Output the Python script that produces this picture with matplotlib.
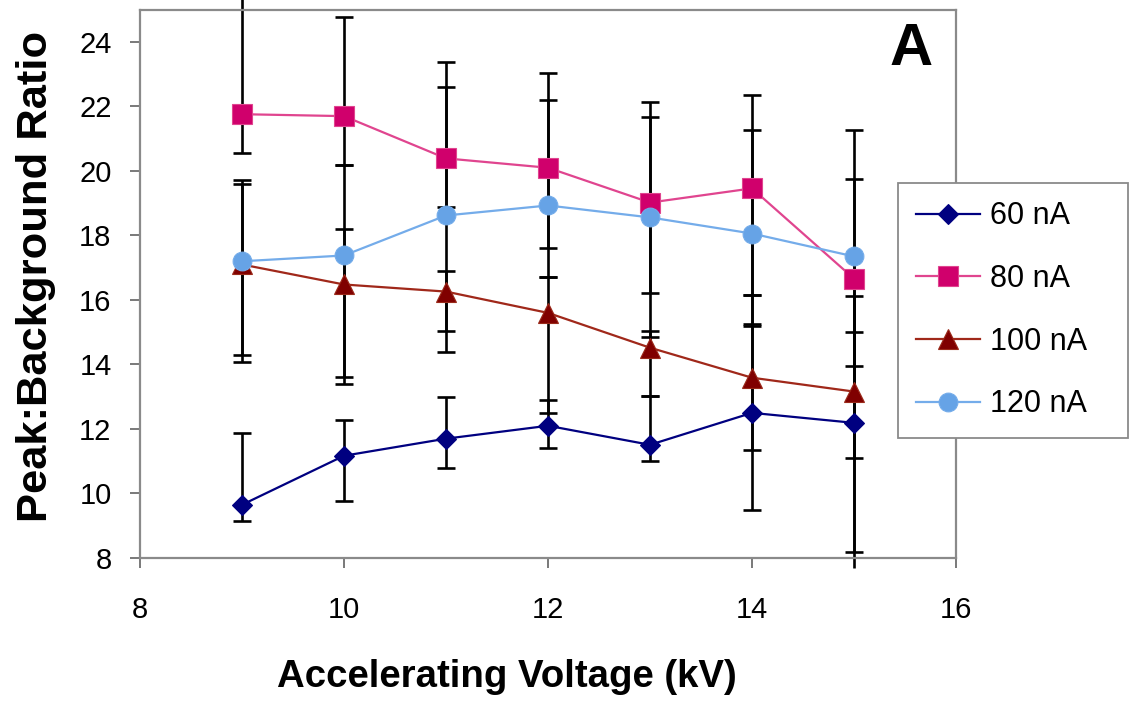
import matplotlib
matplotlib.use("Agg")
import matplotlib.pyplot as plt
import numpy as np

# Accelerating voltage (kV)
voltage = [9, 10, 11, 12, 13, 14, 15]

# Peak:Background ratio per beam current
ratio_60 = [9.65, 11.17, 11.7, 12.1, 11.51, 12.5, 12.19]
ratio_80 = [21.76, 21.7, 20.39, 20.1, 19.02, 19.46, 16.66]
ratio_100 = [17.1, 16.48, 16.26, 15.6, 14.52, 13.59, 13.16]
ratio_120 = [17.2, 17.38, 18.62, 18.93, 18.56, 18.06, 17.35]

# error bar ends (low, high)
low_60 = [9.15, 9.76, 10.79, 11.4, 11.0, 9.49, 7.7]
high_60 = [11.87, 12.27, 12.98, 12.89, 13.01, 15.24, 15.0]
low_80 = [20.57, 20.2, 18.87, 16.7, 16.23, 16.14, 13.94]
high_80 = [25.5, 24.78, 23.39, 23.05, 22.15, 22.37, 19.76]
low_100 = [14.07, 13.6, 15.03, 12.49, 13.01, 11.34, 8.19]
high_100 = [19.73, 18.19, 16.89, 16.7, 15.03, 16.14, 16.11]
low_120 = [14.3, 13.39, 14.38, 17.6, 14.84, 15.18, 11.1]
high_120 = [19.6, 20.2, 22.61, 22.2, 21.68, 21.28, 21.28]

labels = ["60 nA", "80 nA", "100 nA", "120 nA"]
ticks_x = [8, 10, 12, 14, 16]
ticks_y = [8, 10, 12, 14, 16, 18, 20, 22, 24]

plt.rcParams["font.family"] = ["Liberation Sans", "DejaVu Sans"]

fig = plt.figure(figsize=(11.3, 7.04), dpi=100)
ax = fig.add_axes([140 / 1130, 1 - 558 / 704, 816 / 1130, 548.3 / 704])

series = [
    (ratio_60, low_60, high_60, "D", 10, "#000080", "#000080", "#000080"),
    (ratio_80, low_80, high_80, "s", 14, "#D0006C", "#E0458F", "#E0458F"),
    (ratio_100, low_100, high_100, "^", 15, "#800000", "#A0281A", "#9A2A1A"),
    (ratio_120, low_120, high_120, "o", 13.5, "#66A3E6", "#74ACEA", "#74ACEA"),
]

# error bars first, underneath the markers
for vals, lo, hi, *_ in series:
    vals = np.array(vals)
    yerr = [vals - np.array(lo), np.array(hi) - vals]
    eb = ax.errorbar(voltage, vals, yerr=yerr, fmt="none", ecolor="black",
                     elinewidth=1.9, capsize=6.5, capthick=1.9, zorder=2)
    # bars may run past the plot frame (as in the original), caps stay inside
    for bars in eb.lines[2]:
        bars.set_clip_on(False)

handles = []
for (vals, lo, hi, mk, ms, mcol, lcol, ecol), lab in zip(series, labels):
    h, = ax.plot(voltage, vals, color=lcol, lw=1.6, marker=mk, markersize=ms,
                 markerfacecolor=mcol, markeredgecolor=ecol, markeredgewidth=0.8,
                 label=lab, zorder=3)
    handles.append(h)

ax.set_xlim(8, 16)
ax.set_ylim(8, 25)
ax.set_xticks(ticks_x)
ax.set_yticks(ticks_y)

for s in ax.spines.values():
    s.set_color("#8a8a8a")
    s.set_linewidth(1.6)

ax.tick_params(axis="both", direction="out", length=7.5, width=1.1,
               color="#555555", labelsize=21)
ax.tick_params(axis="y", pad=13)
ax.tick_params(axis="x", pad=20)

ax.set_xlabel("Accelerating Voltage (kV)", fontsize=27.6, fontweight="bold")
ax.xaxis.label.set_va("baseline")
ax.xaxis.set_label_coords(0.449, -0.2353)

ax.set_ylabel("Peak:Background Ratio", fontsize=31.3, fontweight="bold")
ax.yaxis.label.set_va("baseline")
ax.yaxis.set_label_coords(-0.114, 0.513)

ax.text(0.945, 0.899, "A", transform=ax.transAxes, fontsize=43,
        fontweight="bold", ha="center", va="baseline")

fig.legend(handles=handles, loc="upper left",
           bbox_to_anchor=(898 / 1130, 1 - 437 / 704, 230 / 1130, 254 / 704),
           bbox_transform=fig.transFigure, mode="expand", borderaxespad=0,
           fancybox=False, framealpha=1, edgecolor="#8a8a8a", fontsize=22,
           handlelength=2.1, handletextpad=0.32, labelspacing=1.07,
           borderpad=0.6, numpoints=1)
fig.legends[0].get_frame().set_linewidth(1.3)

fig.savefig("out.png", dpi=100)
